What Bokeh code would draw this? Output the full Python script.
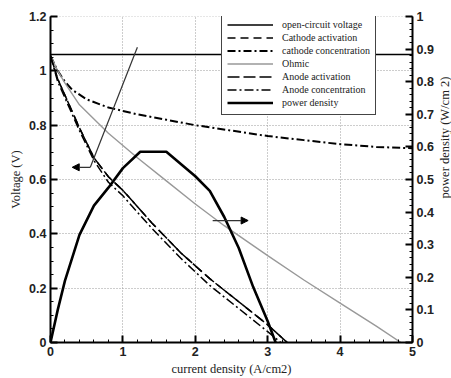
import math
from bokeh.plotting import figure
from bokeh.layouts import row
from bokeh.models import (Range1d, LinearAxis, SingleIntervalTicker, CustomJSTickFormatter,
                          Legend, LegendItem, Arrow, NormalHead, Label)
from bokeh.embed import file_html
from bokeh.resources import INLINE

# ---------------- data ----------------
current_ocv = [0.0, 5.0]
voltage_ocv = [1.06, 1.06]

current_act = [0.0, 0.1, 0.2, 0.4, 0.6, 0.8, 1.0, 1.4, 1.8, 2.2, 2.6, 3.0, 3.27]
voltage_cathode_act = [1.055, 0.97, 0.91, 0.79, 0.68, 0.61, 0.56, 0.44, 0.33, 0.235, 0.15, 0.065, 0.0]
voltage_anode_act = [1.055, 0.97, 0.91, 0.79, 0.68, 0.61, 0.56, 0.44, 0.33, 0.235, 0.15, 0.065, 0.0]

current_cc = [0.0, 0.1, 0.2, 0.3, 0.5, 0.8, 1.2, 1.6, 2.0, 2.5, 3.0, 3.5, 4.0, 4.5, 5.0]
voltage_cathode_conc = [1.055, 1.0, 0.96, 0.93, 0.895, 0.865, 0.84, 0.82, 0.80, 0.78, 0.76, 0.745, 0.73, 0.72, 0.715]

current_ohm = [0.0, 0.1, 0.2, 0.4, 0.8, 1.2, 1.6, 2.0, 2.4, 3.0, 3.5, 4.0, 4.5, 4.84]
voltage_ohmic = [1.055, 1.0, 0.955, 0.875, 0.77, 0.68, 0.595, 0.51, 0.43, 0.32, 0.23, 0.145, 0.06, 0.0]

current_ac = [0.0, 0.1, 0.2, 0.4, 0.6, 0.8, 1.0, 1.4, 1.8, 2.2, 2.6, 3.0, 3.18]
voltage_anode_conc = [1.055, 0.96, 0.90, 0.78, 0.67, 0.59, 0.54, 0.42, 0.31, 0.21, 0.125, 0.04, 0.0]

current_pd = [0.0, 0.1, 0.2, 0.4, 0.6, 0.8, 1.0, 1.24, 1.6, 2.0, 2.2, 2.4, 2.6, 2.8, 3.0, 3.11]
power_density = [0.0, 0.10, 0.19, 0.33, 0.42, 0.475, 0.535, 0.585, 0.585, 0.51, 0.465, 0.385, 0.29, 0.17, 0.065, 0.0]

# annotation arrows (x in A/cm2, y in V)
arrow_left_path_x = [1.2, 0.55]
arrow_left_path_y = [1.087, 0.645]
arrow_left_x = [0.55, 0.30]
arrow_left_y = [0.645, 0.645]
arrow_right_x = [2.24, 2.73]
arrow_right_y = [0.449, 0.449]

x_label = "current density (A/cm2)"
y_label = "Voltage (V)"
y2_label = "power density (W/cm 2)"

# ---------------- figure ----------------
SERIF = "Liberation Serif"
SANS = "Liberation Sans"

p = figure(width=437, height=378, output_backend="svg", toolbar_location=None,
           x_range=Range1d(0, 5.0001), y_range=Range1d(0, 1.2001),
           min_border_left=50, min_border_right=25, min_border_top=16, min_border_bottom=33,
           x_axis_label=x_label, y_axis_label=y_label)
p.extra_y_ranges = {"pd": Range1d(0, 1.0001)}
p.outline_line_color = None
p.background_fill_color = "white"
p.border_fill_color = "white"

fmt = CustomJSTickFormatter(code="return String(Math.round(tick*100)/100);")

p.xaxis.ticker = SingleIntervalTicker(interval=1, num_minor_ticks=5)
p.yaxis.ticker = SingleIntervalTicker(interval=0.2, num_minor_ticks=4)
p.xaxis.formatter = fmt
p.yaxis.formatter = fmt

ax2 = LinearAxis(y_range_name="pd",
                 ticker=SingleIntervalTicker(interval=0.1, num_minor_ticks=5),
                 formatter=fmt)
p.add_layout(ax2, "right")

for ax in [p.xaxis[0], p.yaxis[0], ax2]:
    ax.axis_line_width = 2
    ax.axis_line_color = "black"
    ax.major_tick_in = 7
    ax.major_tick_out = 0
    ax.minor_tick_in = 3
    ax.minor_tick_out = 0
    ax.major_tick_line_width = 2
    ax.minor_tick_line_width = 1
    ax.major_label_text_font = SANS
    ax.major_label_text_font_style = "bold"
    ax.major_label_text_font_size = "12.5px"
    ax.major_label_text_color = "#222222"
    ax.major_label_standoff = 4
    ax.axis_label_text_font = SERIF
    ax.axis_label_text_font_style = "normal"
    ax.axis_label_text_font_size = "12.5px"
    ax.axis_label_text_color = "#222222"
    ax.axis_label_standoff = 3

p.xgrid.ticker = SingleIntervalTicker(interval=1)
p.ygrid.ticker = SingleIntervalTicker(interval=0.2)
p.grid.grid_line_color = "#9a9a9a"
p.grid.grid_line_dash = "1 2"
p.grid.grid_line_width = 1

r_ocv = p.line(current_ocv, voltage_ocv, line_color="black", line_width=1.6)
r_ca = p.line(current_act, voltage_cathode_act, line_color="black", line_width=1.5, line_dash="8 5")
r_cc = p.line(current_cc, voltage_cathode_conc, line_color="black", line_width=2, line_dash="8 3 2 3")
r_oh = p.line(current_ohm, voltage_ohmic, line_color="#999999", line_width=1.4)
r_aa = p.line(current_act, voltage_anode_act, line_color="black", line_width=1.5, line_dash="12 4")
r_an = p.line(current_ac, voltage_anode_conc, line_color="black", line_width=1.5, line_dash="9 3 2 3")
r_pd = p.line(current_pd, power_density, line_color="black", line_width=2.6, y_range_name="pd")

# arrows
p.line(arrow_left_path_x, arrow_left_path_y, line_color="#333333", line_width=1.2)
p.add_layout(Arrow(end=NormalHead(size=7, fill_color="black", line_color="black"),
                   x_start=arrow_left_x[0], y_start=arrow_left_y[0],
                   x_end=arrow_left_x[1], y_end=arrow_left_y[1],
                   line_color="#333333", line_width=1.2))
p.add_layout(Arrow(end=NormalHead(size=7, fill_color="black", line_color="black"),
                   x_start=arrow_right_x[0], y_start=arrow_right_y[0],
                   x_end=arrow_right_x[1], y_end=arrow_right_y[1],
                   line_color="#333333", line_width=1.2))

legend = Legend(items=[
    LegendItem(label="open-circuit voltage", renderers=[r_ocv]),
    LegendItem(label="Cathode activation", renderers=[r_ca]),
    LegendItem(label="cathode concentration", renderers=[r_cc]),
    LegendItem(label="Ohmic", renderers=[r_oh]),
    LegendItem(label="Anode activation", renderers=[r_aa]),
    LegendItem(label="Anode concentration", renderers=[r_an]),
    LegendItem(label="power density", renderers=[r_pd]),
], location=(171, 227))
legend.label_text_font = SERIF
legend.label_text_font_size = "10px"
legend.label_text_color = "#222222"
legend.glyph_width = 46
legend.glyph_height = 13
legend.label_height = 13
legend.label_standoff = 9
legend.spacing = 0
legend.padding = 5
legend.margin = 0
legend.border_line_color = "#444444"
legend.border_line_width = 1.5
legend.border_line_alpha = 1
legend.background_fill_color = "white"
legend.background_fill_alpha = 1
p.add_layout(legend)

# narrow strip on the right holding the power-density axis title (reads bottom-to-top)
side = figure(width=14, height=378, output_backend="svg", toolbar_location=None,
              x_axis_type=None, y_axis_type=None, min_border=0,
              x_range=Range1d(0, 1), y_range=Range1d(0, 1))
side.outline_line_color = None
side.background_fill_color = "white"
side.border_fill_color = "white"
side.add_layout(Label(x=7, y=205, x_units="screen", y_units="screen", text=y2_label,
                      angle=math.pi / 2, text_align="center", text_baseline="middle",
                      text_font=SERIF, text_font_size="12.5px", text_color="#222222"))

layout = row(p, side, spacing=0)

open("out.html", "w").write(file_html(layout, INLINE))
